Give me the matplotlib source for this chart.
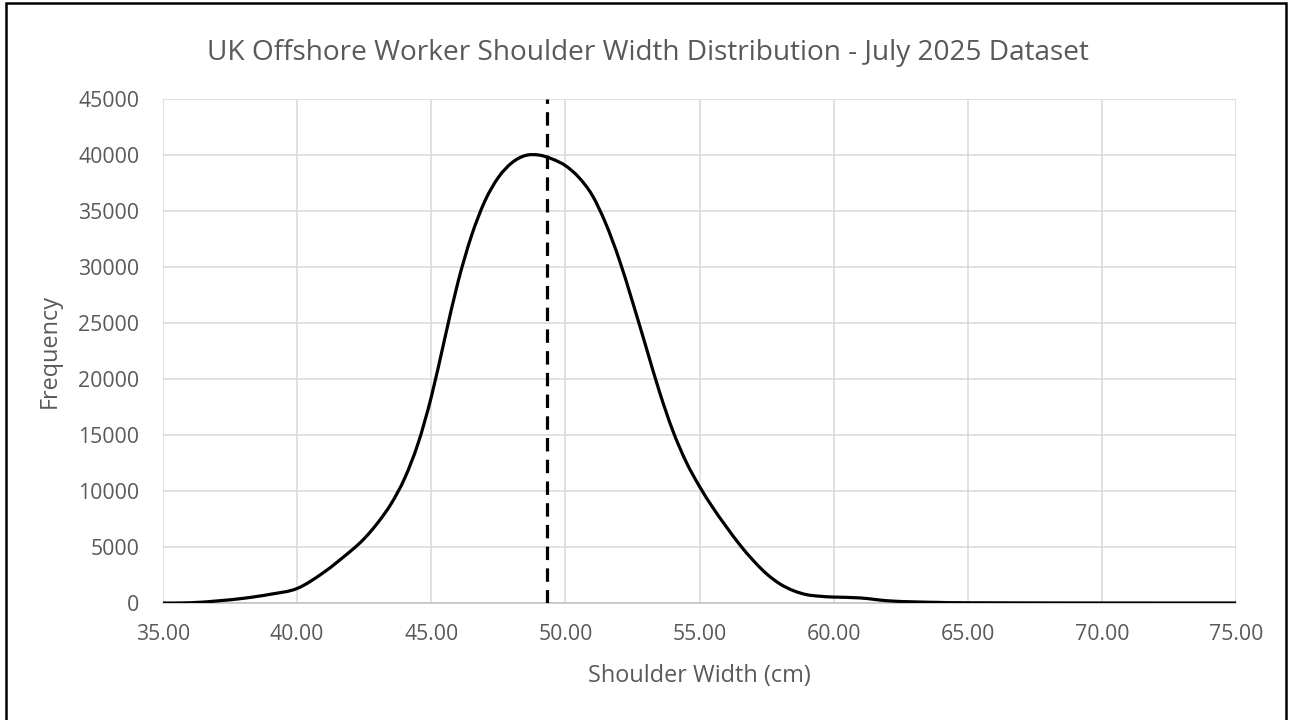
import matplotlib
matplotlib.use("Agg")
import numpy as np
import matplotlib.pyplot as plt
from matplotlib.path import Path
from matplotlib.patches import PathPatch, Rectangle

plt.rcParams['font.family'] = ['Open Sans', 'DejaVu Sans']

# shoulder width (cm) and frequency
width_cm = [35.0, 36.0, 37.0, 38.0, 39.0, 40.0, 41.0, 42.0, 42.5, 43.0,
            43.5, 44.0, 44.5, 45.0, 45.5, 46.0, 46.5, 47.0, 47.5, 48.0,
            48.5, 49.0, 49.5, 50.0, 50.5, 51.0, 51.5, 52.0, 52.5, 53.0,
            53.5, 54.0, 54.5, 55.0, 55.5, 56.0, 56.5, 57.0, 57.5, 58.0,
            58.5, 59.0, 59.5, 60.0, 61.0, 62.0, 63.0, 64.0, 65.0, 70.0,
            75.0]
frequency = [0, 20, 180, 420, 780, 1300, 2750, 4650, 5750, 7150,
             8850, 11100, 14200, 18400, 23600, 28700, 32800, 35900, 38000, 39300,
             39950, 40000, 39650, 39050, 38000, 36400, 33900, 30700, 26900, 22900,
             18900, 15400, 12600, 10400, 8500, 6800, 5200, 3800, 2600, 1700,
             1100, 740, 600, 530, 450, 200, 100, 50, 20, 0,
             0]
mean_width = 49.32

x_ticks = [35, 40, 45, 50, 55, 60, 65, 70, 75]
y_ticks = list(range(0, 45001, 5000))

grey = '#595959'


def smooth_path(xs, ys):
    # Excel-style smoothed line: cubic Bezier through every point
    p = np.column_stack([xs, ys]).astype(float)
    verts = [p[0]]
    codes = [Path.MOVETO]
    n = len(p)
    for i in range(n - 1):
        p0 = p[max(i - 1, 0)]
        p1, p2 = p[i], p[i + 1]
        p3 = p[min(i + 2, n - 1)]
        verts += [p1 + (p2 - p0) / 6, p2 - (p3 - p1) / 6, p2]
        codes += [Path.CURVE4] * 3
    return Path(verts, codes)


fig = plt.figure(figsize=(12.92, 7.2), dpi=100)
ax = fig.add_axes([0.1262, 0.1625, 0.8305, 0.7])

ax.add_patch(PathPatch(smooth_path(width_cm, frequency), facecolor='none',
                       edgecolor='black', lw=2.3, zorder=3))
ax.axvline(mean_width, color='black', lw=2.3, linestyle=(0, (4.2, 2.6)), zorder=4)

ax.set_xlim(35, 75)
ax.set_ylim(0, 45000)
ax.set_xticks(x_ticks)
ax.set_xticklabels([f'{t:.2f}' for t in x_ticks])
ax.set_yticks(y_ticks)
ax.grid(True, color='#d9d9d9', lw=1.1)
ax.set_axisbelow(True)
for side in ['top', 'right', 'left']:
    ax.spines[side].set_visible(False)
ax.spines['bottom'].set_color('#bfbfbf')
ax.spines['bottom'].set_linewidth(1.1)
ax.tick_params(length=0, labelsize=15.3, labelcolor=grey)
ax.tick_params(axis='y', pad=17)
ax.tick_params(axis='x', pad=15)

ax.set_xlabel('Shoulder Width (cm)', fontsize=16.9, color=grey, labelpad=14)
ax.set_ylabel('Frequency', fontsize=16.9, color=grey, labelpad=12)
fig.text(0.5015, 0.927, 'UK Offshore Worker Shoulder Width Distribution - July 2025 Dataset',
         ha='center', va='center', fontsize=20.2, color=grey)

fig.patches.append(Rectangle((0.0046, -0.05), 0.9907, 1.0465, transform=fig.transFigure,
                             fill=False, edgecolor='black', lw=1.8))

fig.savefig('out.png', dpi=100)
